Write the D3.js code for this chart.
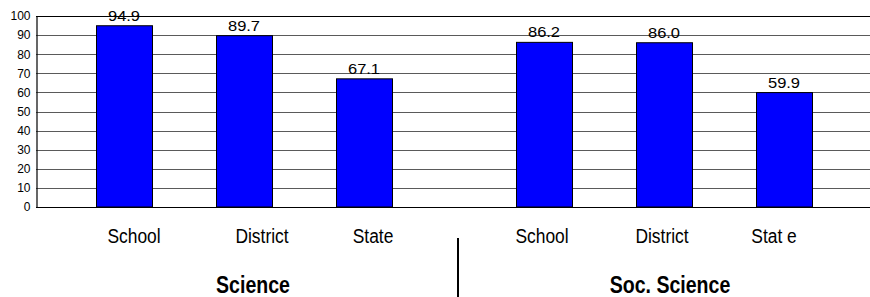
<!DOCTYPE html>
<html>
<head>
<meta charset="utf-8">
<script src="https://cdn.jsdelivr.net/npm/d3@7"></script>
<style>
  html, body { margin: 0; padding: 0; background: #fff; }
  svg { display: block; font-family: "Liberation Sans", Arial, sans-serif; }
</style>
</head>
<body>
<svg id="chart" width="870" height="297"></svg>
<script>
const groups = ["Science", "Soc. Science"];
const categories = ["School", "District", "State"];
const categoryLabels = [["School", "District", "State"], ["School", "District", "Stat e"]];
const scienceValues = [94.9, 89.7, 67.1];
const socScienceValues = [86.2, 86.0, 59.9];
const valueLabels = [["94.9", "89.7", "67.1"], ["86.2", "86.0", "59.9"]];
const yTicks = [0, 10, 20, 30, 40, 50, 60, 70, 80, 90, 100];

const svg = d3.select("#chart");
const plotLeft = 36, plotRight = 870, plotTop = 16, plotBottom = 207;
// small horizontal nudges of category labels (layout only)
const labelNudge = [[10, 18, 9], [-2, -2, -10]];
const groupNudge = [9, 6];

const x0 = d3.scaleBand().domain(groups).range([64, 844]).paddingInner(1 / 7).paddingOuter(0);
const x1 = d3.scaleBand().domain(categories).range([0, x0.bandwidth()]).paddingInner(0.533).paddingOuter(0.2665);
const y = d3.scaleLinear().domain([0, 100]).range([plotBottom, plotTop]);

// gridlines
svg.append("g").selectAll("line").data(yTicks.filter(t => t > 0 && t < 100)).join("line")
  .attr("x1", plotLeft).attr("x2", plotRight)
  .attr("y1", d => Math.round(y(d)) + 0.5).attr("y2", d => Math.round(y(d)) + 0.5)
  .attr("stroke", "#5a5a5a").attr("stroke-width", 1.2);
svg.append("line").attr("x1", plotLeft).attr("x2", plotRight)
  .attr("y1", Math.round(y(100)) + 0.5).attr("y2", Math.round(y(100)) + 0.5)
  .attr("stroke", "#000").attr("stroke-width", 1.2);

// y axis
const yAxis = d3.axisLeft(y).tickValues(yTicks).tickSize(0).tickPadding(6);
const ya = svg.append("g").attr("transform", `translate(${plotLeft + 0.5},0)`).call(yAxis);
ya.select(".domain").attr("stroke", "#000").attr("stroke-width", 1.2);
ya.selectAll("text").attr("font-size", 12).attr("fill", "#000")
  .attr("font-family", "Liberation Sans, Arial, sans-serif");

const seriesByGroup = [scienceValues, socScienceValues];
const data = [];
groups.forEach((g, gi) => categories.forEach((c, ci) => data.push({
  g, gi, c, ci, v: seriesByGroup[gi][ci], lbl: valueLabels[gi][ci], cat: categoryLabels[gi][ci]
})));
const cx = d => x0(d.g) + x1(d.c);

// bars
svg.append("g").selectAll("rect").data(data).join("rect")
  .attr("x", d => Math.round(cx(d)) + 0.5)
  .attr("y", d => y(d.v))
  .attr("width", Math.round(x1.bandwidth()))
  .attr("height", d => y(0) - y(d.v))
  .attr("fill", "#0000ff").attr("stroke", "#000").attr("stroke-width", 1);

// bottom axis line
svg.append("line").attr("x1", plotLeft).attr("x2", plotRight)
  .attr("y1", Math.round(y(0)) + 0.5).attr("y2", Math.round(y(0)) + 0.5)
  .attr("stroke", "#000").attr("stroke-width", 1.2);

// value labels
svg.append("g").selectAll("text").data(data).join("text")
  .attr("transform", d => `translate(${cx(d) + x1.bandwidth() / 2},${y(d.v) - 5}) scale(1.1,1)`)
  .attr("text-anchor", "middle").attr("font-size", 15).attr("fill", "#000")
  .text(d => d.lbl);

// category labels
svg.append("g").selectAll("text").data(data).join("text")
  .attr("transform", d => `translate(${cx(d) + x1.bandwidth() / 2 + labelNudge[d.gi][d.ci]},243) scale(0.87,1)`)
  .attr("text-anchor", "middle").attr("font-size", 20).attr("fill", "#000")
  .text(d => d.cat);

// group labels
svg.append("g").selectAll("text").data(groups).join("text")
  .attr("transform", (d, i) => `translate(${x0(d) + x0.bandwidth() / 2 + groupNudge[i]},293) scale(0.85,1)`)
  .attr("text-anchor", "middle").attr("font-size", 23).attr("font-weight", "bold").attr("fill", "#000")
  .text(d => d);

// divider
svg.append("line").attr("x1", 458).attr("x2", 458).attr("y1", 238).attr("y2", 297)
  .attr("stroke", "#000").attr("stroke-width", 2);
</script>
</body>
</html>
